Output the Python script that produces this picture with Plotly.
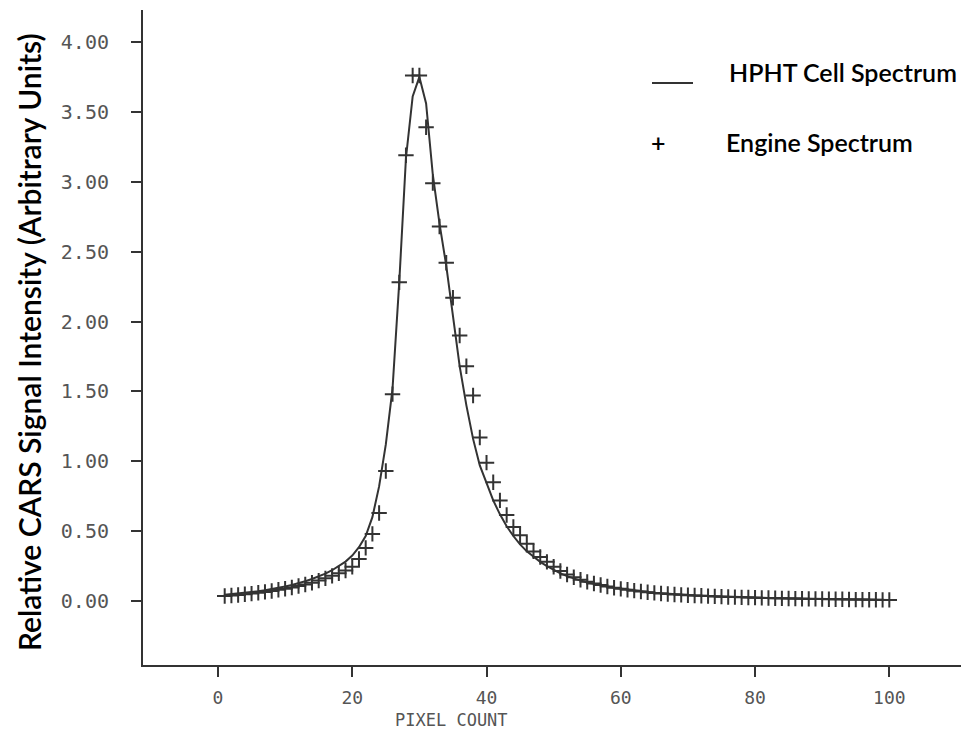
import plotly.graph_objects as go

# ---- data ----
pixel = list(range(1, 101))

engine_spectrum = [
    0.036, 0.039, 0.043, 0.048, 0.053, 0.059, 0.065, 0.072, 0.080, 0.088,   # 1-10
    0.097, 0.107, 0.118, 0.131, 0.146, 0.162, 0.180, 0.198, 0.218, 0.245,   # 11-20
    0.300, 0.380, 0.480, 0.630, 0.930, 1.480, 2.280, 3.190, 3.760, 3.760,   # 21-30
    3.390, 2.990, 2.680, 2.420, 2.170, 1.900, 1.680, 1.470, 1.170, 0.990,   # 31-40
    0.850, 0.720, 0.615, 0.530, 0.470, 0.410, 0.355, 0.315, 0.280, 0.245,   # 41-50
    0.215, 0.190, 0.170, 0.152, 0.137, 0.125, 0.114, 0.104, 0.095, 0.087,   # 51-60
    0.080, 0.074, 0.068, 0.063, 0.058, 0.054, 0.050, 0.047, 0.044, 0.041,   # 61-70
    0.039, 0.037, 0.035, 0.033, 0.031, 0.029, 0.028, 0.026, 0.025, 0.024,   # 71-80
    0.022, 0.021, 0.020, 0.019, 0.018, 0.017, 0.016, 0.015, 0.015, 0.014,   # 81-90
    0.013, 0.012, 0.012, 0.011, 0.010, 0.010, 0.009, 0.009, 0.008, 0.008,   # 91-100
]

hpht_cell_spectrum = [
    0.045, 0.049, 0.053, 0.058, 0.064, 0.070, 0.077, 0.085, 0.094, 0.104,   # 1-10
    0.115, 0.127, 0.141, 0.157, 0.175, 0.196, 0.220, 0.248, 0.282, 0.325,   # 11-20
    0.385, 0.465, 0.600, 0.820, 1.120, 1.520, 2.280, 3.170, 3.610, 3.750,   # 21-30
    3.560, 3.050, 2.700, 2.400, 2.040, 1.680, 1.400, 1.160, 0.970, 0.840,   # 31-40
    0.720, 0.620, 0.535, 0.465, 0.405, 0.355, 0.315, 0.280, 0.250, 0.222,   # 41-50
    0.198, 0.178, 0.161, 0.146, 0.133, 0.122, 0.112, 0.103, 0.095, 0.088,   # 51-60
    0.081, 0.075, 0.069, 0.064, 0.059, 0.055, 0.051, 0.048, 0.045, 0.042,   # 61-70
    0.039, 0.037, 0.035, 0.033, 0.031, 0.029, 0.028, 0.026, 0.025, 0.024,   # 71-80
    0.022, 0.021, 0.020, 0.019, 0.018, 0.017, 0.016, 0.015, 0.015, 0.014,   # 81-90
    0.013, 0.012, 0.012, 0.011, 0.010, 0.010, 0.009, 0.009, 0.008, 0.008,   # 91-100
]

x_tick_values = [0, 20, 40, 60, 80, 100]
y_tick_values = [0.0, 0.5, 1.0, 1.5, 2.0, 2.5, 3.0, 3.5, 4.0]
y_tick_labels = ["0.00", "0.50", "1.00", "1.50", "2.00", "2.50", "3.00", "3.50", "4.00"]

legend_labels = ["HPHT Cell Spectrum", "Engine Spectrum"]
x_title = "PIXEL COUNT"
y_title = "Relative CARS Signal Intensity (Arbitrary Units)"

INK = "#333333"
TICK_GRAY = "#555555"
MONO = "DejaVu Sans Mono"
SANS = "Lato"

# page has an 8px body margin; plot area spans screen x 143..969, y 10..665
DOM_L, DOM_R, DOM_T, DOM_B = 143, 969, 10, 665


def px_x(sx):
    return (sx - DOM_L) / (DOM_R - DOM_L)


def px_y(sy):
    return (DOM_B - sy) / (DOM_B - DOM_T)


fig = go.Figure()

fig.add_trace(go.Scatter(
    x=pixel, y=hpht_cell_spectrum, mode="lines", name=legend_labels[0],
    line=dict(color=INK, width=2), showlegend=False,
))
fig.add_trace(go.Scatter(
    x=pixel, y=engine_spectrum, mode="markers", name=legend_labels[1],
    marker=dict(symbol="cross-thin", size=11, line=dict(color=INK, width=2)),
    showlegend=False,
))

fig.update_layout(
    width=969, height=731,
    margin=dict(l=DOM_L - 8, r=8, t=DOM_T - 8, b=731 - (DOM_B - 8)),
    paper_bgcolor="white", plot_bgcolor="white",
    xaxis=dict(
        range=[-11.17, 111.87],
        tickvals=x_tick_values,
        ticktext=[str(v) for v in x_tick_values],
        showgrid=False, zeroline=False,
        showline=True, linecolor=INK, linewidth=2,
        ticks="outside", ticklen=10, tickwidth=1.5, tickcolor=INK,
        tickfont=dict(family=MONO, size=18, color=TICK_GRAY),
        ticklabelstandoff=5,
    ),
    yaxis=dict(
        range=[-0.458, 4.229],
        tickvals=y_tick_values,
        ticktext=y_tick_labels,
        showgrid=False, zeroline=False,
        showline=True, linecolor=INK, linewidth=2,
        ticks="outside", ticklen=10, tickwidth=1.5, tickcolor=INK,
        tickfont=dict(family=MONO, size=20, color=TICK_GRAY),
        ticklabelstandoff=18,
    ),
)

legend_font = dict(family=SANS, size=25, color="black", weight=600)
annotations = [
    dict(text=y_title, xref="paper", yref="paper", x=px_x(29), y=px_y(342),
         xanchor="center", yanchor="middle", textangle=-90, showarrow=False,
         font=dict(family=SANS, size=30, color="black", weight=600)),
    dict(text=x_title, xref="paper", yref="paper", x=px_x(451), y=px_y(720),
         xanchor="center", yanchor="middle", showarrow=False,
         font=dict(family=MONO, size=17, color=TICK_GRAY)),
    dict(text=legend_labels[0], xref="paper", yref="paper", x=px_x(727),
         y=px_y(72), xanchor="left", yanchor="middle", showarrow=False,
         font=legend_font),
    dict(text=legend_labels[1], xref="paper", yref="paper", x=px_x(724),
         y=px_y(142), xanchor="left", yanchor="middle", showarrow=False,
         font=legend_font),
    dict(text="+", xref="paper", yref="paper", x=px_x(658),
         y=px_y(142), xanchor="center", yanchor="middle", showarrow=False,
         font=legend_font),
]
fig.update_layout(annotations=annotations)

# legend line sample
fig.add_shape(type="line", xref="paper", yref="paper",
              x0=px_x(652), x1=px_x(693), y0=px_y(83), y1=px_y(83),
              line=dict(color=INK, width=2))

fig.write_html("out.html")
